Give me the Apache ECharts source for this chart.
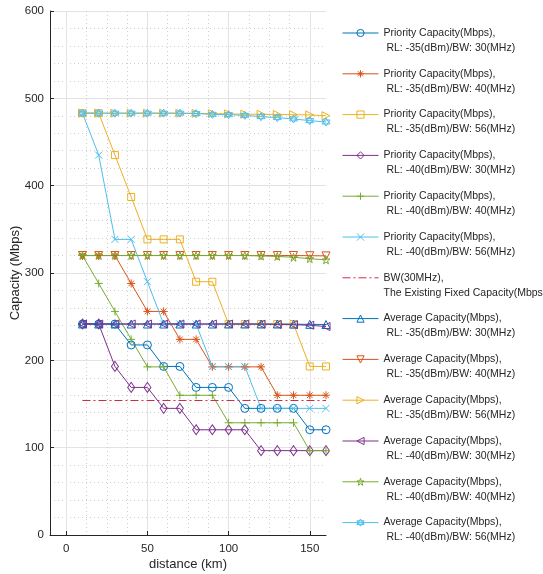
<!DOCTYPE html>
<html>
<head>
<meta charset="utf-8">
<script src="https://cdn.jsdelivr.net/npm/echarts@6/dist/echarts.min.js"></script>
<style>html,body{margin:0;padding:0;background:#fff}#c{width:543px;height:574px}</style>
</head>
<body>
<div id="c"></div>
<script>
// ---- data ----
const distance = [10, 20, 30, 40, 50, 60, 70, 80, 90, 100, 110, 120, 130, 140, 150, 160];
const prio35_30 = [241.6, 241.6, 241.6, 217.6, 217.6, 193, 193, 169, 169, 169, 145, 145, 145, 145, 120.5, 120.5];
const prio35_40 = [320, 320, 320, 288, 256, 256, 224, 224, 192.5, 192.5, 192.5, 192.5, 160, 160, 160, 160];
const prio35_56 = [483, 483, 435, 387, 338.5, 338.5, 338.5, 290, 290, 241.6, 241.6, 241.6, 241.6, 241.6, 193, 193];
const prio40_30 = [241.6, 241.6, 193, 169, 169, 145, 145, 120.5, 120.5, 120.5, 120.5, 96.6, 96.6, 96.6, 96.6, 96.6];
const prio40_40 = [320, 288, 256, 224, 192.5, 192.5, 160, 160, 160, 128.5, 128.5, 128.5, 128.5, 128.5, 96.6, 96.6];
const prio40_56 = [483, 435, 338.5, 338.5, 290, 241.6, 241.6, 241.6, 193, 193, 193, 145, 145, 145, 145, 145];
const avg35_30 = [241.6, 241.6, 241.6, 241.6, 241.6, 241.6, 241.6, 241.6, 241.6, 241.6, 241.6, 241.6, 241.6, 241.4, 241.2, 241];
const avg35_40 = [320, 320, 320, 320, 320, 320, 320, 320, 320, 320, 320, 320, 320, 320, 319.8, 319.6];
const avg35_56 = [483, 483, 483, 483, 483, 483, 483, 482.8, 482.5, 482.2, 481.8, 481.8, 481.5, 481.3, 481, 480.1];
const avg40_30 = [241.6, 241.6, 241.6, 241.6, 241.6, 241.6, 241.6, 241.6, 241.6, 241.6, 241.6, 241.4, 241, 240.8, 240.2, 238.7];
const avg40_40 = [320, 320, 320, 320, 320, 320, 320, 320, 320, 320, 320, 319.5, 319, 318, 316.4, 315];
const avg40_56 = [483, 483, 483, 483, 483, 483, 483, 482.5, 481.7, 481.3, 480.5, 479, 477.9, 476.4, 474.5, 472.9];
const bwDistance = [10, 160];
const bwCapacity = [154, 154];
const xTickValues = [0, 50, 100, 150];

const names = [
  'Priority Capacity(Mbps),\n RL: -35(dBm)/BW: 30(MHz)',
  'Priority Capacity(Mbps),\n RL: -35(dBm)/BW: 40(MHz)',
  'Priority Capacity(Mbps),\n RL: -35(dBm)/BW: 56(MHz)',
  'Priority Capacity(Mbps),\n RL: -40(dBm)/BW: 30(MHz)',
  'Priority Capacity(Mbps),\n RL: -40(dBm)/BW: 40(MHz)',
  'Priority Capacity(Mbps),\n RL: -40(dBm)/BW: 56(MHz)',
  'BW(30MHz),\nThe Existing Fixed Capacity(Mbps)',
  'Average Capacity(Mbps),\n RL: -35(dBm)/BW: 30(MHz)',
  'Average Capacity(Mbps),\n RL: -35(dBm)/BW: 40(MHz)',
  'Average Capacity(Mbps),\n RL: -35(dBm)/BW: 56(MHz)',
  'Average Capacity(Mbps),\n RL: -40(dBm)/BW: 30(MHz)',
  'Average Capacity(Mbps),\n RL: -40(dBm)/BW: 40(MHz)',
  'Average Capacity(Mbps),\n RL: -40(dBm)/BW: 56(MHz)'
];

// ---- styles ----
const C = ['#0072BD', '#D95319', '#EDB120', '#7E2F8E', '#77AC30', '#4DBEEE', '#CF2B47'];
const SYM = {
  circle: 'circle',
  asterisk: 'path://M5,0L5,10M0,5L10,5M1.5,1.5L8.5,8.5M1.5,8.5L8.5,1.5',
  square: 'rect',
  diamond: 'path://M5,0L9,6L5,12L1,6Z',
  plus: 'path://M5,0L5,10M0,5L10,5',
  cross: 'path://M0,0L10,10M0,10L10,0',
  triUp: 'path://M5,0L10,9L0,9Z',
  triDown: 'path://M0,0L10,0L5,9Z',
  triRight: 'path://M0,0L9,5L0,10Z',
  triLeft: 'path://M9,0L0,5L9,10Z',
  star: 'path://M5,0L6.12,3.45L9.76,3.45L6.82,5.59L7.94,9.05L5,6.91L2.06,9.05L3.18,5.59L0.24,3.45L3.88,3.45Z',
  hex: 'path://M5,0L9.33,7.5L0.67,7.5ZM5,10L0.67,2.5L9.33,2.5Z'
};
const FONT = 'Liberation Sans, Arial, sans-serif';
const AXC = '#262626';

function mk(name, vals, color, symbol, size) {
  return {
    name: name, type: 'line', xAxisIndex: 0, yAxisIndex: 0,
    data: distance.map((d, i) => [d, vals[i]]),
    symbol: symbol, symbolSize: size || 7, showAllSymbol: true,
    itemStyle: { color: 'rgba(255,255,255,0)', borderColor: color, borderWidth: 1 },
    lineStyle: { color: color, width: 1 },
    emphasis: { disabled: true }, clip: false
  };
}

const series = [
  mk(names[0], prio35_30, C[0], SYM.circle, 8),
  mk(names[1], prio35_40, C[1], SYM.asterisk, 8),
  mk(names[2], prio35_56, C[2], SYM.square, 7),
  mk(names[3], prio40_30, C[3], SYM.diamond, [7, 10]),
  mk(names[4], prio40_40, C[4], SYM.plus, 8),
  mk(names[5], prio40_56, C[5], SYM.cross, 7),
  {
    name: names[6], type: 'line', xAxisIndex: 0, yAxisIndex: 0,
    data: bwDistance.map((d, i) => [d, bwCapacity[i]]),
    symbol: 'none', itemStyle: { color: C[6], borderColor: C[6] },
    lineStyle: { color: C[6], width: 1, type: [8, 3, 2, 3] },
    emphasis: { disabled: true }
  },
  mk(names[7], avg35_30, C[0], SYM.triUp, 8),
  mk(names[8], avg35_40, C[1], SYM.triDown, 8),
  mk(names[9], avg35_56, C[2], SYM.triRight, 8),
  mk(names[10], avg40_30, C[3], SYM.triLeft, 8),
  mk(names[11], avg40_40, C[4], SYM.star, 8),
  mk(names[12], avg40_56, C[5], SYM.hex, 8)
];

const minorX = [];
for (let v = 12.5; v < 160; v += 12.5) { if (v % 50 !== 0) minorX.push(v); }

const legendData = names.map((n, i) => i === 6 ? { name: n, itemStyle: { opacity: 0 } } : { name: n });

const chart = echarts.init(document.getElementById('c'), null, { renderer: 'canvas' });
chart.setOption({
  animation: false,
  backgroundColor: '#fff',
  textStyle: { fontFamily: FONT },
  grid: { left: 50, top: 11, right: 217, bottom: 39, containLabel: false, outerBoundsMode: 'none' },
  legend: {
    orient: 'vertical', left: 342, top: 10.5, padding: 0,
    itemWidth: 36, itemHeight: 9, itemGap: -4.2,
    data: legendData,
    itemStyle: { color: 'rgba(255,255,255,0)', borderWidth: 1 },
    lineStyle: { width: 1 },
    formatter: function (n) { return n.split('\n').map(function (l) { return '{t|' + l + '}'; }).join('\n'); },
    textStyle: {
      fontFamily: FONT, fontSize: 10.5, lineHeight: 15, color: '#262626', padding: [15, 0, 0, 0],
      rich: { t: { fontFamily: FONT, fontSize: 10.5, lineHeight: 15, color: '#262626' } }
    }
  },
  xAxis: [
    {
      type: 'value', min: -10, max: 160, position: 'bottom',
      name: 'distance (km)', nameLocation: 'middle', nameGap: 23, nameMoveOverlap: false,
      nameTextStyle: { fontFamily: FONT, fontSize: 13, color: AXC },
      axisLine: { show: true, onZero: false, lineStyle: { color: AXC, width: 1 } },
      axisTick: { show: true, inside: true, length: 4, customValues: xTickValues, lineStyle: { color: AXC } },
      axisLabel: { customValues: xTickValues, fontSize: 11.5, color: AXC, margin: 8, fontFamily: FONT },
      splitLine: { show: true, lineStyle: { color: '#e3e3e3', width: 1 } }
    },
    {
      type: 'value', min: -10, max: 160, position: 'bottom',
      axisLine: { show: false }, axisLabel: { show: false },
      axisTick: { show: false, customValues: minorX },
      splitLine: { show: true, lineStyle: { color: '#cfcfcf', width: 1, type: [1, 3] } }
    }
  ],
  yAxis: {
    type: 'value', min: 0, max: 600, interval: 100,
    name: 'Capacity (Mbps)', nameLocation: 'middle', nameGap: 28, nameMoveOverlap: false,
    nameTextStyle: { fontFamily: FONT, fontSize: 13, color: AXC },
    axisLine: { show: true, onZero: false, lineStyle: { color: AXC, width: 1 } },
    axisTick: { show: true, inside: true, length: 4, lineStyle: { color: AXC } },
    axisLabel: { fontSize: 11.5, color: AXC, margin: 6, fontFamily: FONT },
    splitLine: { show: true, lineStyle: { color: '#e3e3e3', width: 1 } },
    minorTick: { show: false, splitNumber: 5 },
    minorSplitLine: { show: true, lineStyle: { color: '#cfcfcf', width: 1, type: [1, 3] } }
  },
  series: series
});
</script>
</body>
</html>
